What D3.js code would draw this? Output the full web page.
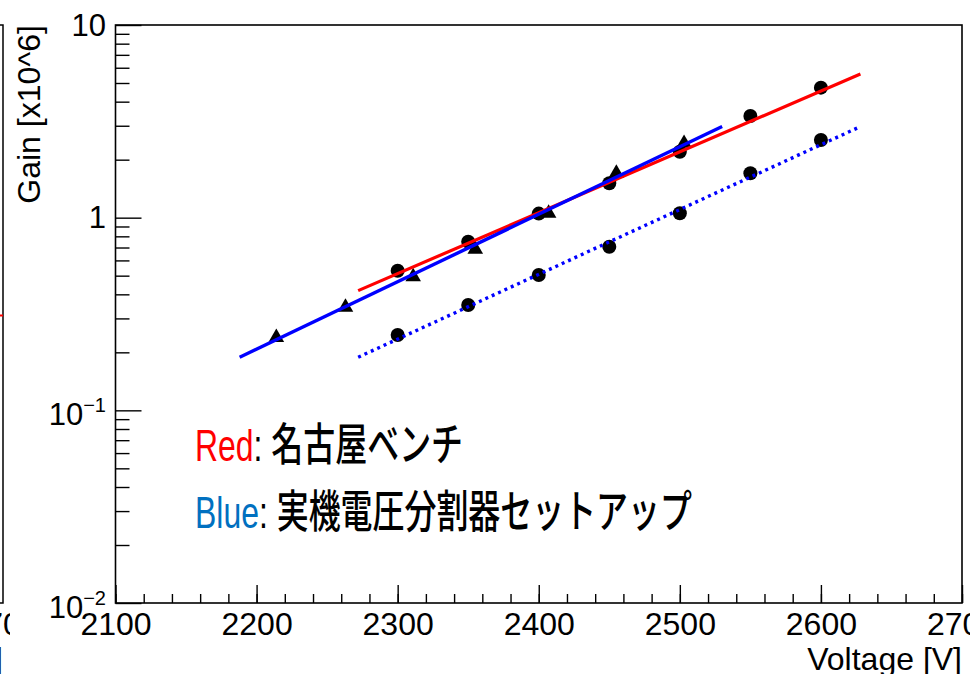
<!DOCTYPE html>
<html>
<head>
<meta charset="utf-8">
<script src="https://cdn.jsdelivr.net/npm/d3@7"></script>
<style>
  body { margin: 0; background: #fff; }
  svg { display: block; }
</style>
</head>
<body>
<script>
var width = 970;
var height = 674;

// frame of the right pad
var frame = {left: 115.5, right: 962, top: 25, bottom: 603};

// data
var voltsCircle = [2300, 2350, 2400, 2450, 2500, 2550, 2600];
var gainRedCircle = [0.53, 0.75, 1.05, 1.51, 2.20, 3.37, 4.73];
var gainLowCircle = [0.246, 0.352, 0.504, 0.707, 1.054, 1.70, 2.53];
var voltsTriangle = [2214, 2263, 2311, 2355, 2407, 2455, 2503];
var gainTriangle = [0.239, 0.343, 0.494, 0.686, 1.054, 1.70, 2.43];

// fitted lines, end points [V, gain]
var fitRed = [[2272, 0.418], [2628, 5.57]];
var fitBlue = [[2188, 0.1886], [2530, 2.97]];
var fitBlueDotted = [[2272, 0.1886], [2628, 2.97]];

var xMajorTicks = [2100, 2200, 2300, 2400, 2500, 2600, 2700];
var yMajorTicks = [0.01, 0.1, 1, 10];
var yTickBase = ["10", "10", "1", "10"];
var yTickExp = ["\u22122", "\u22121", "", ""];

var legendKeys = ["Red", "Blue"];
var legendTexts = ["名古屋ベンチ", "実機電圧分割器セットアップ"];
var legendColors = ["#ff0000", "#0070c0"];

var latin = "'Liberation Sans', Arial, Helvetica, sans-serif";

var svg = d3.select("body")
  .append("svg")
  .attr("width", width)
  .attr("height", height);

svg.append("rect")
  .attr("width", width)
  .attr("height", height)
  .attr("fill", "white");

// remains of the neighbouring pad on the left
var leftPad = svg.append("g");
leftPad.append("path")
  .attr("d", "M0," + frame.top + "H3V" + frame.bottom + "H0")
  .attr("fill", "none")
  .attr("stroke", "#000")
  .attr("stroke-width", 1.5);
leftPad.append("line")
  .attr("x1", 0).attr("x2", 3)
  .attr("y1", 315.5).attr("y2", 315.5)
  .attr("stroke", "#ff0000")
  .attr("stroke-width", 2);
leftPad.append("text")
  .attr("x", 3).attr("y", 635)
  .attr("text-anchor", "middle")
  .attr("font-family", latin)
  .attr("font-size", 32)
  .text("2700");
leftPad.append("text")
  .attr("x", 3).attr("y", 670)
  .attr("text-anchor", "end")
  .attr("font-family", latin)
  .attr("font-size", 32)
  .text("Voltage [V]");

// the right pad covers it
svg.append("rect")
  .attr("x", 10)
  .attr("width", width - 10)
  .attr("height", height)
  .attr("fill", "white");

var x = d3.scaleLinear()
  .domain([2100, 2700])
  .range([frame.left, frame.right]);

var y = d3.scaleLog()
  .domain([0.01, 10])
  .range([frame.bottom, frame.top]);

// x axis: minor then major
svg.append("g")
  .attr("transform", "translate(0," + frame.bottom + ")")
  .call(d3.axisBottom(x).ticks(30).tickSizeInner(-9).tickSizeOuter(0).tickFormat(""))
  .call(g => g.select(".domain").remove())
  .call(g => g.selectAll("line").attr("stroke-width", 1.4));

var xAxis = svg.append("g")
  .attr("transform", "translate(0," + frame.bottom + ")")
  .call(d3.axisBottom(x).tickValues(xMajorTicks).tickSizeInner(-18).tickSizeOuter(0).tickPadding(9.5).tickFormat(d3.format("d")))
  .call(g => g.select(".domain").remove())
  .call(g => g.selectAll("line").attr("stroke-width", 1.4));
xAxis.attr("font-family", latin).attr("font-size", 32);
xAxis.selectAll("text").attr("fill", "#000");

// y axis: minor then major
var yMinor = y.ticks().filter(d => yMajorTicks.indexOf(d) < 0);
svg.append("g")
  .attr("transform", "translate(" + frame.left + ",0)")
  .call(d3.axisLeft(y).tickValues(yMinor).tickSizeInner(-14).tickSizeOuter(0).tickFormat(""))
  .call(g => g.select(".domain").remove())
  .call(g => g.selectAll("line").attr("stroke-width", 1.4));

var yAxis = svg.append("g")
  .attr("transform", "translate(" + frame.left + ",0)")
  .call(d3.axisLeft(y).tickValues(yMajorTicks).tickSizeInner(-26).tickSizeOuter(0).tickPadding(9.5).tickFormat(""))
  .call(g => g.select(".domain").remove())
  .call(g => g.selectAll("line").attr("stroke-width", 1.4));
yAxis.attr("font-family", latin).attr("font-size", 31);

yAxis.selectAll(".tick text")
  .attr("fill", "#000")
  .each(function(d) {
    var i = yMajorTicks.indexOf(d);
    var t = d3.select(this).attr("dy", null)
      .attr("y", yTickExp[i] ? 14.5 : 10);
    t.append("tspan").text(yTickBase[i]);
    if (yTickExp[i]) {
      t.append("tspan")
        .attr("font-size", 20)
        .attr("dy", -13)
        .text(yTickExp[i]);
    }
  });

// frame
svg.append("rect")
  .attr("x", frame.left)
  .attr("y", frame.top)
  .attr("width", frame.right - frame.left)
  .attr("height", frame.bottom - frame.top)
  .attr("fill", "none")
  .attr("stroke", "#000")
  .attr("stroke-width", 1.6);

// axis titles
svg.append("text")
  .attr("x", frame.right)
  .attr("y", 670)
  .attr("text-anchor", "end")
  .attr("font-family", latin)
  .attr("font-size", 32)
  .text("Voltage [V]");

svg.append("text")
  .attr("transform", "translate(40," + frame.top + ")rotate(-90)")
  .attr("text-anchor", "end")
  .attr("font-family", latin)
  .attr("font-size", 32)
  .text("Gain [x10^6]");

// markers
var plot = svg.append("g");

plot.selectAll("circle.red")
  .data(voltsCircle)
  .enter()
  .append("circle")
  .attr("class", "red")
  .attr("cx", d => x(d))
  .attr("cy", (d, i) => y(gainRedCircle[i]))
  .attr("r", 7)
  .attr("fill", "#000");

plot.selectAll("circle.low")
  .data(voltsCircle)
  .enter()
  .append("circle")
  .attr("class", "low")
  .attr("cx", d => x(d))
  .attr("cy", (d, i) => y(gainLowCircle[i]))
  .attr("r", 7)
  .attr("fill", "#000");

plot.selectAll("path.tri")
  .data(voltsTriangle)
  .enter()
  .append("path")
  .attr("class", "tri")
  .attr("d", d3.symbol().type(d3.symbolTriangle).size(105))
  .attr("transform", (d, i) => "translate(" + x(d) + "," + y(gainTriangle[i]) + ")")
  .attr("fill", "#000");

// fit lines drawn on top of the markers
var line = d3.line()
  .x(d => x(d[0]))
  .y(d => y(d[1]));

plot.append("path")
  .datum(fitRed)
  .attr("d", line)
  .attr("fill", "none")
  .attr("stroke", "#ff0000")
  .attr("stroke-width", 3.2);

plot.append("path")
  .datum(fitBlue)
  .attr("d", line)
  .attr("fill", "none")
  .attr("stroke", "#0000ff")
  .attr("stroke-width", 3.4);

plot.append("path")
  .datum(fitBlueDotted)
  .attr("d", line)
  .attr("fill", "none")
  .attr("stroke", "#0000ff")
  .attr("stroke-width", 3.4)
  .attr("stroke-dasharray", "3,4");

// legend text
var legendY = [461, 528];
legendKeys.forEach(function(k, i) {
  var t = svg.append("text")
    .attr("transform", "translate(195," + legendY[i] + ")scale(0.71,1)")
    .attr("font-family", latin + ", 'Noto Sans CJK JP'")
    .attr("font-size", 45)
    .attr("fill", "#000");
  t.append("tspan").attr("fill", legendColors[i]).text(k);
  t.append("tspan").attr("font-family", latin).text(": ");
  t.append("tspan").attr("font-family", "'Noto Sans CJK JP', sans-serif").attr("font-weight", 500).text(legendTexts[i]);
});
</script>
</body>
</html>
